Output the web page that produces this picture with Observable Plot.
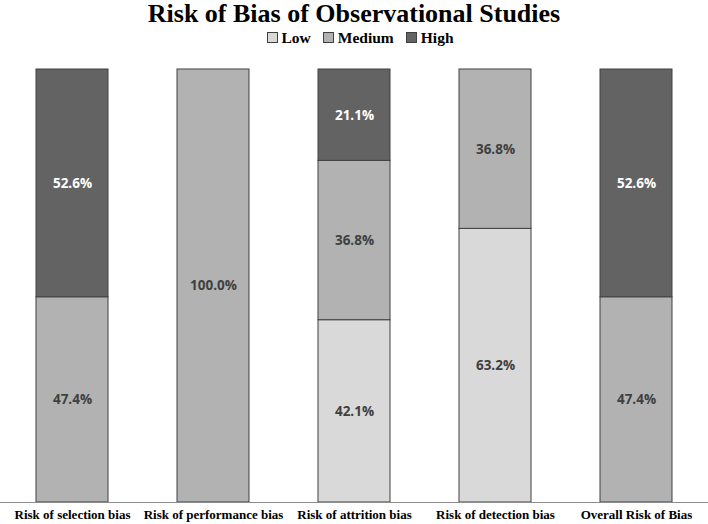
<!DOCTYPE html>
<html>
<head>
<meta charset="utf-8">
<script src="https://cdn.jsdelivr.net/npm/d3@7"></script>
<script src="https://cdn.jsdelivr.net/npm/@observablehq/plot@0.6"></script>
<style>
  body { margin: 0; background: #fff; width: 708px; }
  #title { font-family: "Liberation Serif", "Times New Roman", serif; font-weight: bold; font-size: 26px; text-align: center; height: 27px; line-height: 27px; color: #000; }
  #legend { font-family: "Liberation Serif", "Times New Roman", serif; font-weight: bold; font-size: 15.5px; text-align: center; height: 22px; line-height: 22px; color: #000; }
  .sw { display: inline-block; width: 9px; height: 9px; border: 1px solid #404040; margin: 0 4px 0 12px; vertical-align: 0px; }
</style>
</head>
<body>
<div id="title">Risk of Bias of Observational Studies</div>
<div id="legend"></div>
<div id="chart"></div>
<script>
const categories = ["Risk of selection bias", "Risk of performance bias", "Risk of attrition bias", "Risk of detection bias", "Overall Risk of Bias"];
const levels = ["Low", "Medium", "High"];
const colors = ["#d9d9d9", "#b2b2b2", "#636363"];
const textColors = ["#404040", "#404040", "#ffffff"];
const low = [0, 0, 42.1, 63.2, 0];
const medium = [47.4, 100.0, 36.8, 36.8, 47.4];
const high = [52.6, 0, 21.1, 0, 52.6];

const series = [low, medium, high];
const rows = [];
categories.forEach((c, i) => {
  levels.forEach((l, j) => {
    const v = series[j][i];
    if (v > 0) rows.push({category: c, level: l, value: v, tc: textColors[j]});
  });
});

const legend = document.getElementById("legend");
levels.forEach((l, j) => {
  const s = document.createElement("span");
  s.className = "sw";
  s.style.background = colors[j];
  legend.appendChild(s);
  legend.appendChild(document.createTextNode(l));
});

const chart = Plot.plot({
  width: 708,
  height: 475,
  marginTop: 20,
  marginBottom: 22,
  marginLeft: 0,
  marginRight: 0,
  style: { background: "#fff" },
  x: { domain: categories, paddingInner: 0.49, paddingOuter: 0.245, label: null, axis: null },
  y: { domain: [0, 100], axis: null },
  color: { domain: levels, range: colors },
  marks: [
    Plot.barY(rows, Plot.stackY({x: "category", y: "value", z: "level", fill: "level", stroke: "#404040", strokeWidth: 1, inset: 0})),
    Plot.text(rows, Plot.stackY({x: "category", y: "value", z: "level", text: d => d.value.toFixed(1) + "%", fill: d => d.tc, fontWeight: "bold", fontSize: 13.5, fontFamily: "'Open Sans', sans-serif"})),
    Plot.ruleY([0], {stroke: "#8c8c8c", strokeWidth: 1}),
    Plot.axisX({tickSize: 0, tickPadding: 7, fontFamily: "'Liberation Serif', 'Times New Roman', serif", fontWeight: "bold", fontSize: 13, fill: "#000", label: null})
  ]
});
document.getElementById("chart").appendChild(chart);
</script>
</body>
</html>
